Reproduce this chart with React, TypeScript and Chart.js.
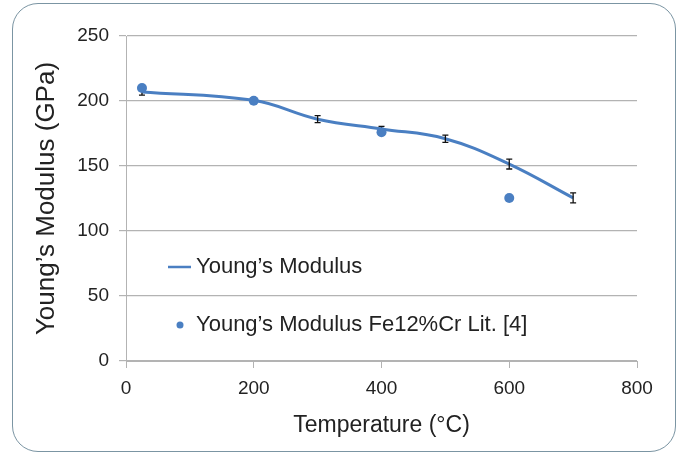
import React, { useEffect, useRef } from "react";
import { Chart, registerables } from "chart.js";

Chart.register(...registerables);

const temperatures = [25, 200, 300, 400, 500, 600, 700];
const modulus = [207, 200.5, 186, 178.5, 171, 151.5, 125.5];
const modulusError = [2.5, 2, 2.7, 2, 2.8, 3.8, 3.8];

const litTemperatures = [25, 200, 400, 600];
const litModulus = [210, 200.2, 176, 125.4];

const xTicks = [0, 200, 400, 600, 800];
const yTicks = [0, 50, 100, 150, 200, 250];

const lineLabel = "Young\u2019s Modulus";
const litLabel = "Young\u2019s Modulus Fe12%Cr Lit. [4]";
const xTitle = "Temperature (\u00b0C)";
const yTitle = "Young\u2019s Modulus (GPa)";

const FONT = "'Liberation Sans', Arial, Helvetica, sans-serif";
const BLUE = "#4a7fc2";
const GRID = "#b3b3b3";
const TEXT = "#222222";

const errorBarPlugin = {
  id: "errorBars",
  afterDatasetDraw(chart: any, args: any) {
    if (args.index !== 0) return;
    const { ctx, scales } = chart;
    const xs = scales.x;
    const ys = scales.y;
    ctx.save();
    ctx.strokeStyle = "#111111";
    ctx.lineWidth = 1.3;
    temperatures.forEach((t, i) => {
      const x = xs.getPixelForValue(t);
      const yTop = ys.getPixelForValue(modulus[i] + modulusError[i]);
      const yBot = ys.getPixelForValue(modulus[i] - modulusError[i]);
      ctx.beginPath();
      ctx.moveTo(x, yTop);
      ctx.lineTo(x, yBot);
      ctx.moveTo(x - 3, yTop);
      ctx.lineTo(x + 3, yTop);
      ctx.moveTo(x - 3, yBot);
      ctx.lineTo(x + 3, yBot);
      ctx.stroke();
    });
    ctx.restore();
  },
};

const legendPlugin = {
  id: "insideLegend",
  afterDraw(chart: any) {
    const { ctx, chartArea } = chart;
    const l = chartArea.left;
    const t = chartArea.top;
    ctx.save();
    ctx.font = `22px ${FONT}`;
    ctx.fillStyle = TEXT;
    ctx.textBaseline = "middle";
    ctx.textAlign = "left";
    // line entry
    ctx.strokeStyle = BLUE;
    ctx.lineWidth = 2.5;
    ctx.beginPath();
    ctx.moveTo(l + 42, t + 231);
    ctx.lineTo(l + 65, t + 231);
    ctx.stroke();
    ctx.fillText(lineLabel, l + 70, t + 231);
    // point entry
    ctx.fillStyle = BLUE;
    ctx.beginPath();
    ctx.arc(l + 54, t + 289, 3.5, 0, Math.PI * 2);
    ctx.fill();
    ctx.fillStyle = TEXT;
    ctx.fillText(litLabel, l + 70, t + 289);
    ctx.restore();
  },
};

export default function App() {
  const canvasRef = useRef<HTMLCanvasElement | null>(null);

  useEffect(() => {
    if (!canvasRef.current) return;
    const chart = new Chart(canvasRef.current, {
      type: "line",
      data: {
        datasets: [
          {
            label: lineLabel,
            data: temperatures.map((t, i) => ({ x: t, y: modulus[i] })),
            borderColor: BLUE,
            backgroundColor: BLUE,
            borderWidth: 3,
            pointRadius: 0,
            tension: 0.4,
            fill: false,
            order: 2,
          },
          {
            label: litLabel,
            type: "scatter",
            data: litTemperatures.map((t, i) => ({ x: t, y: litModulus[i] })),
            borderColor: BLUE,
            backgroundColor: BLUE,
            pointRadius: 5,
            pointBorderWidth: 0,
            showLine: false,
            order: 1,
          } as any,
        ],
      },
      options: {
        animation: false,
        responsive: false,
        maintainAspectRatio: false,
        layout: { padding: { left: 0, right: 43, top: 36, bottom: 0 } },
        plugins: {
          legend: { display: false },
          tooltip: { enabled: false },
        },
        scales: {
          x: {
            type: "linear",
            min: 0,
            max: 800,
            afterFit(scale: any) {
              scale.height = 94;
            },
            afterBuildTicks(scale: any) {
              scale.ticks = xTicks.map((v) => ({ value: v }));
            },
            grid: {
              drawOnChartArea: false,
              drawTicks: true,
              tickLength: 7,
              color: GRID,
            },
            border: { display: true, color: GRID, width: 1 },
            ticks: {
              padding: 9,
              color: TEXT,
              font: { family: FONT, size: 19 },
              maxRotation: 0,
            },
            title: {
              display: true,
              text: xTitle,
              color: TEXT,
              font: { family: FONT, size: 23 },
              padding: { top: 0, bottom: 16 },
            },
          },
          y: {
            type: "linear",
            min: 0,
            max: 250,
            afterFit(scale: any) {
              scale.width = 126;
            },
            afterBuildTicks(scale: any) {
              scale.ticks = yTicks.map((v) => ({ value: v }));
            },
            grid: {
              drawOnChartArea: true,
              drawTicks: true,
              tickLength: 7,
              color: GRID,
              lineWidth: 1.2,
            },
            border: { display: true, color: GRID, width: 1 },
            ticks: {
              padding: 10,
              color: TEXT,
              font: { family: FONT, size: 19 },
            },
            title: {
              display: true,
              text: yTitle,
              color: TEXT,
              font: { family: FONT, size: 26 },
              padding: { top: 31, bottom: 0 },
            },
          },
        },
      },
      plugins: [errorBarPlugin, legendPlugin],
    } as any);
    return () => chart.destroy();
  }, []);

  return (
    <div
      style={{
        position: "absolute",
        left: 0,
        top: 0,
        width: 680,
        height: 455,
        background: "#ffffff",
        overflow: "hidden",
      }}
    >
      <div
        style={{
          position: "absolute",
          left: 12,
          top: 3,
          width: 664,
          height: 449,
          border: "1.5px solid #7b95a3",
          borderRadius: 26,
          boxSizing: "border-box",
        }}
      />
      <canvas
        ref={canvasRef}
        width={680}
        height={455}
        style={{ position: "absolute", left: 0, top: 0, width: 680, height: 455 }}
      />
    </div>
  );
}
